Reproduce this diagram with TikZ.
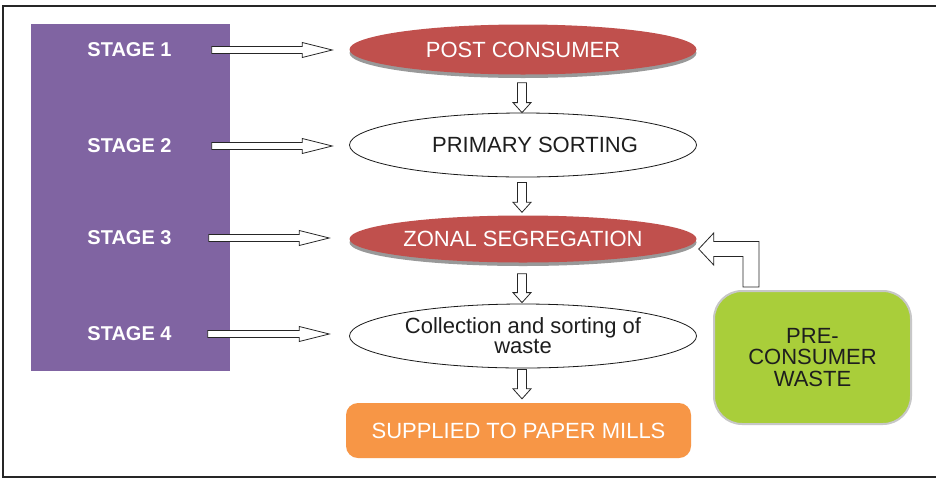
\documentclass[tikz,border=0pt]{standalone}
\usepackage{fontspec}
\setmainfont{Liberation Sans}
\usetikzlibrary{shapes.geometric,shadows,calc}
\definecolor{redell}{HTML}{C0504D}
\definecolor{purp}{HTML}{8064A2}
\definecolor{orng}{HTML}{F79646}
\definecolor{grn}{HTML}{A9CE3A}
\definecolor{txtdark}{HTML}{1E1E1E}
\tikzset{
  blk/.style={draw=black!85,fill=white,line width=0.8pt,line join=miter},
  stagetxt/.style={text=white,font=\fontsize{20}{22}\selectfont\bfseries,inner sep=0pt},
  ell/.style={ellipse,minimum width=347pt,inner sep=0pt,align=center,
     font=\fontsize{22}{20}\selectfont},
  redell/.style={ell,fill=redell,text=white,minimum height=50pt,
     drop shadow={shadow xshift=0pt,shadow yshift=-3.5pt,fill=black!40,opacity=1}},
  whiteell/.style={ell,draw=black!90,line width=0.8pt,fill=white,text=txtdark,minimum height=64pt},
}
\newcommand\rblk[2]{\draw[blk] let \p1=(#1),\p2=(#2) in
  (\x1,\y1+3.5pt) -- (\x2-30pt,\y1+3.5pt) -- (\x2-30pt,\y1+7.5pt) -- (\x2,\y1)
  -- (\x2-30pt,\y1-7.5pt) -- (\x2-30pt,\y1-3.5pt) -- (\x1,\y1-3.5pt) -- cycle;}
\newcommand\dblk[2]{\draw[blk] let \p1=(#1),\p2=(#2) in
  (\x1-4.5pt,\y1) -- (\x1-4.5pt,\y2+10pt) -- (\x1-9pt,\y2+10pt) -- (\x1,\y2)
  -- (\x1+9pt,\y2+10pt) -- (\x1+4.5pt,\y2+10pt) -- (\x1+4.5pt,\y1) -- cycle;}
\begin{document}
\begin{tikzpicture}[x=1pt,y=-1pt]
\useasboundingbox (0,0) rectangle (936,480);
\fill[white] (0,0) rectangle (936,480);
% frame
\draw[line width=1.3pt,black!85] (936,6) -- (3,6) -- (3,477) -- (936,477);
% stage column
\node[fill=purp,minimum width=199pt,minimum height=347pt,inner sep=0pt] (col) at (130.5,197.5) {};
\node[stagetxt] (st1) at (129.5,50) {STAGE 1};
\node[stagetxt] (st2) at (129.5,146) {STAGE 2};
\node[stagetxt] (st3) at (129.5,238) {STAGE 3};
\node[stagetxt] (st4) at (129.5,334) {STAGE 4};
% flow
\node[redell] (pc) at (523,49.5) {POST CONSUMER};
\node[whiteell] (ps) at (523,145) {\hspace*{24pt}PRIMARY SORTING};
\node[redell,minimum height=47pt] (zs) at (523,239) {ZONAL SEGREGATION};
\node[whiteell] (cs) at (523,336) {Collection and sorting of\\waste};
\node[rounded corners=12pt,fill=orng,text=white,minimum width=345pt,minimum height=55pt,
  inner sep=0pt,font=\fontsize{22}{22}\selectfont] (sp) at (518.5,430.5) {SUPPLIED TO PAPER MILLS};
\node[rounded corners=28pt,fill=grn,draw=black!22,line width=2pt,text=txtdark,
  minimum width=197pt,minimum height=133pt,inner sep=0pt,align=center,
  font=\fontsize{22}{21.5}\selectfont] (pw) at (812.5,357.5) {PRE-\\CONSUMER\\WASTE};
% stage arrows
\rblk{$(st1.east)+(40,0)$}{$(pc.west)+(-17,0)$}
\rblk{$(st2.east)+(40,0)$}{$(pc.west)+(-17,0)$}
\rblk{$(st3.east)+(37,0)$}{$(pc.west)+(-20,0)$}
\rblk{$(st4.east)+(36,0)$}{$(pc.west)+(-20,0)$}
% down arrows
\dblk{$(pc.south)+(-1,8)$}{ps.north}
\dblk{$(ps.south)+(-1,5)$}{$(zs.north)+(0,-3)$}
\dblk{$(zs.south)+(-1,11)$}{$(cs.north)+(0,-1)$}
\dblk{$(cs.south)+(-1,1)$}{$(sp.north)+(0,-4)$}
% L arrow from pre-consumer waste
\draw[blk] let \p1=($(pw.north)+(-61.5,-3)$),\p2=($(zs.east)+(2,10)$) in
  (\x1-8pt,\y1) -- (\x1-8pt,\y2-7.5pt) -- (\x2+15pt,\y2-7.5pt) -- (\x2+15pt,\y2-16pt)
  -- (\x2,\y2) -- (\x2+15pt,\y2+16pt) -- (\x2+15pt,\y2+7.5pt) -- (\x1+8pt,\y2+7.5pt)
  -- (\x1+8pt,\y1) -- cycle;
\end{tikzpicture}
\end{document}
